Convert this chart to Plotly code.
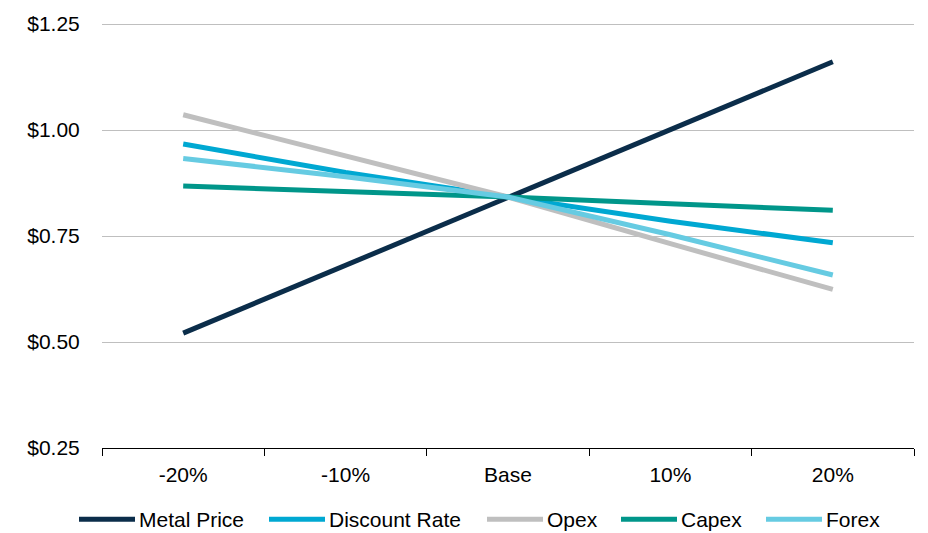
import plotly.graph_objects as go

# Sensitivity scenarios on the x axis
scenarios = ["-20%", "-10%", "Base", "10%", "20%"]

# Per-share value under each scenario, by driver
metal_price = [0.521, 0.681, 0.842, 1.002, 1.161]
discount_rate = [0.967, 0.900, 0.842, 0.785, 0.734]
opex = [1.036, 0.938, 0.842, 0.732, 0.624]
capex = [0.868, 0.855, 0.842, 0.826, 0.811]
forex = [0.933, 0.890, 0.842, 0.753, 0.658]

y_ticks = [0.25, 0.50, 0.75, 1.00, 1.25]
y_tick_labels = ["$0.25", "$0.50", "$0.75", "$1.00", "$1.25"]

series_names = ["Metal Price", "Discount Rate", "Opex", "Capex", "Forex"]
series_values = [metal_price, discount_rate, opex, capex, forex]
series_colors = ["#0B2D4A", "#00A8D2", "#BFBFBF", "#00968A", "#66CBE2"]

# Layout geometry (pixels)
W, H = 928, 533
M_L, M_R, M_T, M_B = 102, 14, 19, 85
plot_w = W - M_L - M_R
plot_h = H - M_T - M_B

font_family = "Liberation Sans, Arial, sans-serif"
FONT_SIZE = 21

fig = go.Figure()
for name, values, color in zip(series_names, series_values, series_colors):
    fig.add_trace(go.Scatter(
        x=scenarios, y=values, name=name, mode="lines",
        line=dict(color=color, width=5),
        showlegend=False,
    ))

# Legend drawn below the axis: a swatch line followed by the series name
legend_line_x = [79, 269, 487, 621, 766]   # left edge of each swatch, px
swatch_len = 56
legend_y_px = 520


def px_to_paper_x(px):
    return (px - M_L) / plot_w


def px_to_paper_y(py):
    return (H - M_B - py) / plot_h


ly = px_to_paper_y(legend_y_px)
for name, color, x0 in zip(series_names, series_colors, legend_line_x):
    fig.add_shape(
        type="line", xref="paper", yref="paper",
        x0=px_to_paper_x(x0), x1=px_to_paper_x(x0 + swatch_len),
        y0=ly, y1=ly,
        line=dict(color=color, width=5),
    )
    fig.add_annotation(
        xref="paper", yref="paper",
        x=px_to_paper_x(x0 + swatch_len + 2), y=ly,
        xanchor="left", yanchor="middle",
        text=name, showarrow=False,
        font=dict(family=font_family, size=FONT_SIZE, color="#000000"),
    )

fig.update_layout(
    width=W, height=H,
    margin=dict(l=M_L, r=M_R, t=M_T, b=M_B),
    paper_bgcolor="white", plot_bgcolor="white",
    font=dict(family=font_family, size=FONT_SIZE, color="#000000"),
    showlegend=False,
    xaxis=dict(
        type="category", range=[-0.5, 4.5],
        showline=True, linecolor="#000000", linewidth=1,
        ticks="outside", tickson="boundaries", ticklen=7,
        tickcolor="#000000", showgrid=False, zeroline=False,
        ticklabelstandoff=8,
        tickfont=dict(size=FONT_SIZE),
    ),
    yaxis=dict(
        range=[0.25, 1.2525], tickvals=y_ticks, ticktext=y_tick_labels,
        showgrid=True, gridcolor="#BFBFBF", gridwidth=1,
        zeroline=False, showline=False,
        ticks="outside", ticklen=17, tickcolor="rgba(0,0,0,0)",
        tickfont=dict(size=FONT_SIZE),
    ),
)

fig.write_html("out.html")
